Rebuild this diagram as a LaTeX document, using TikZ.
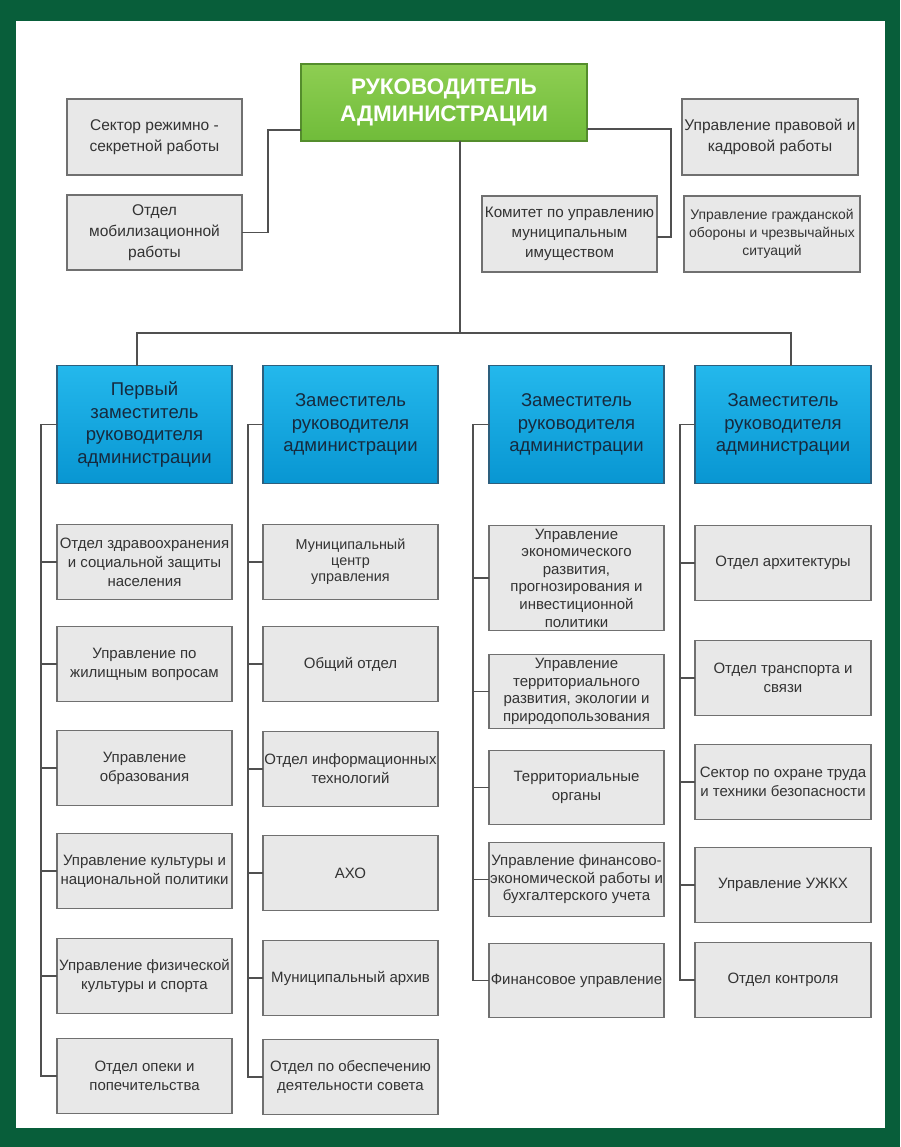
\documentclass[tikz,border=0pt]{standalone}
\usepackage{fontspec}
\setmainfont{Liberation Sans}
\usetikzlibrary{positioning,calc}
\definecolor{frame}{RGB}{8,94,58}
\definecolor{boxgray}{RGB}{232,232,232}
\definecolor{boxline}{RGB}{112,112,112}
\definecolor{linkgray}{RGB}{80,80,80}
\definecolor{headtop}{RGB}{36,184,236}
\definecolor{headbot}{RGB}{8,150,210}
\definecolor{headline}{RGB}{45,95,125}
\definecolor{headtext}{RGB}{22,42,62}
\definecolor{chieftop}{RGB}{142,206,82}
\definecolor{chiefbot}{RGB}{112,188,58}

\begin{document}
\begin{tikzpicture}[x=1pt, y=-1pt,
        unit/.style={draw=boxline, fill=boxgray, line width=1.6pt, inner sep=0pt, outer sep=0pt, align=center,
            minimum width=175pt, minimum height=75pt, text=black!80, font=\fontsize{15}{19}\selectfont},
        head/.style={draw=headline, top color=headtop, bottom color=headbot, line width=1.2pt, inner sep=0pt,
            outer sep=0pt, align=center, minimum width=175pt, minimum height=118pt, text=headtext,
            font=\fontsize{18.5}{22.5}\selectfont},
        chief/.style={draw=chiefbot!75!black, top color=chieftop, bottom color=chiefbot, line width=1.2pt,
            inner sep=0pt, outer sep=0pt, align=center, minimum width=286pt, minimum height=77pt, text=white,
            font=\bfseries\fontsize{22.5}{27}\selectfont},
        link/.style={draw=linkgray, line width=1.8pt}]
        \fill[frame] (0,0) rectangle (900,1147);
        \fill[white] (16,21) rectangle (885,1128);
        \useasboundingbox (0,0) rectangle (900,1147);

        \node[chief] (chief) at (444,102.5) {РУКОВОДИТЕЛЬ\\АДМИНИСТРАЦИИ};
        \node[unit, font=\fontsize{15.5}{21}\selectfont, minimum height=76pt] (s1) at (154.5,137) {Сектор режимно -\\секретной работы};
        \node[unit, font=\fontsize{15.5}{21}\selectfont, below=20pt of s1] (s2) {Отдел\\мобилизационной\\работы};
        \node[unit, font=\fontsize{15.5}{21}\selectfont, minimum height=76pt, minimum width=176pt] (r1) at (770,137) {Управление правовой и\\кадровой работы};
        \node[unit, font=\fontsize{13.9}{18}\selectfont, minimum height=76pt, minimum width=176pt] (r2) at (772,234) {Управление гражданской\\обороны и чрезвычайных\\ситуаций};
        \node[unit, font=\fontsize{15.2}{20}\selectfont, minimum height=76pt] (kom) at (569.5,234) {Комитет по управлению\\муниципальным\\имуществом};

        \node[head] (h1) at (144.5,424.5) {Первый\\заместитель\\руководителя\\администрации};
        \node[head, right=31pt of h1] (h2) {Заместитель\\руководителя\\администрации};
        \node[head, right=51pt of h2] (h3) {Заместитель\\руководителя\\администрации};
        \node[head, right=31pt of h3, minimum width=176pt] (h4) {Заместитель\\руководителя\\администрации};

        \node[unit, below=41pt of h1] (a1) {Отдел здравоохранения\\и социальной защиты\\населения};
        \node[unit, below=27pt of a1] (a2) {Управление по\\жилищным вопросам};
        \node[unit, below=29pt of a2] (a3) {Управление\\образования};
        \node[unit, below=28pt of a3] (a4) {Управление культуры и\\национальной политики};
        \node[unit, below=30pt of a4] (a5) {Управление физической\\культуры и спорта};
        \node[unit, below=25pt of a5] (a6) {Отдел опеки и\\попечительства};

        \node[unit, below=41pt of h2, font=\fontsize{14.4}{16}\selectfont] (b1) {Муниципальный\\центр\\управления};
        \node[unit, below=27pt of b1] (b2) {Общий отдел};
        \node[unit, below=30pt of b2] (b3) {Отдел информационных\\технологий};
        \node[unit, below=29pt of b3] (b4) {АХО};
        \node[unit, below=30pt of b4] (b5) {Муниципальный архив};
        \node[unit, below=24pt of b5] (b6) {Отдел по обеспечению\\деятельности совета};

        \node[unit, below=42pt of h3, minimum height=105pt, font=\fontsize{15}{17.6}\selectfont] (c1)
            {Управление\\экономического\\развития,\\прогнозирования и\\инвестиционной\\политики};
        \node[unit, below=24pt of c1, minimum height=74pt, font=\fontsize{15}{17.6}\selectfont] (c2)
            {Управление\\территориального\\развития, экологии и\\природопользования};
        \node[unit, below=22pt of c2, minimum height=74pt] (c3) {Территориальные\\органы};
        \node[unit, below=18pt of c3, minimum height=74pt, font=\fontsize{15}{17.6}\selectfont] (c4)
            {Управление финансово-\\экономической работы и\\бухгалтерского учета};
        \node[unit, below=27pt of c4, minimum height=74pt] (c5) {Финансовое управление};

        \node[unit, below=42pt of h4, minimum width=176pt] (d1) {Отдел архитектуры};
        \node[unit, below=40pt of d1, minimum width=176pt] (d2) {Отдел транспорта и\\связи};
        \node[unit, below=29pt of d2, minimum width=176pt] (d3) {Сектор по охране труда\\и техники безопасности};
        \node[unit, below=28pt of d3, minimum width=176pt] (d4) {Управление УЖКХ};
        \node[unit, below=20pt of d4, minimum width=176pt] (d5) {Отдел контроля};

        \coordinate (lbus) at (268,130);
        \coordinate (rbus) at (671,129);
        \coordinate (bus) at (460,333);
        \draw[link] (chief.west |- lbus) -- (lbus) |- (s2.east);
        \draw[link] ($(s1.east)+(0,9)$) -- ($(s1.east)+(0,9)$ -| lbus);
        \draw[link] (chief.east |- rbus) -- (rbus) |- ($(kom.east)+(0,3)$);
        \draw[link] ($(r1.west)+(0,9)$) -- ($(r1.west)+(0,9)$ -| rbus);
        \draw[link] ($(r2.west)+(0,-13)$) -- ($(r2.west)+(0,-13)$ -| rbus);
        \draw[link] (chief.south -| bus) -- (bus);
        \draw[link] ($(h1.north)+(-7.5,0)$) |- (bus) -| ($(h4.north)+(8,0)$);
        \draw[link] ($(h2.north)+(8.5,0)$) -- ($(h2.north)+(8.5,0)$ |- bus);
        \draw[link] ($(h3.north)+(8.5,0)$) -- ($(h3.north)+(8.5,0)$ |- bus);

        \draw[link] (h1.west) -- ++(-16,0) |- (a6.west);
        \draw[link] (h2.west) -- ++(-15,0) |- (b6.west);
        \draw[link] (h3.west) -- ++(-16,0) |- (c5.west);
        \draw[link] (h4.west) -- ++(-15,0) |- (d5.west);
        \foreach \n in {a1,a2,a3,a4,a5} \draw[link] (\n.west) -- ++(-16,0);
        \foreach \n in {b1,b2,b3,b4,b5} \draw[link] (\n.west) -- ++(-15,0);
        \foreach \n in {c1,c2,c3,c4} \draw[link] (\n.west) -- ++(-16,0);
        \foreach \n in {d1,d2,d3,d4} \draw[link] (\n.west) -- ++(-15,0);
    \end{tikzpicture}
\end{document}
